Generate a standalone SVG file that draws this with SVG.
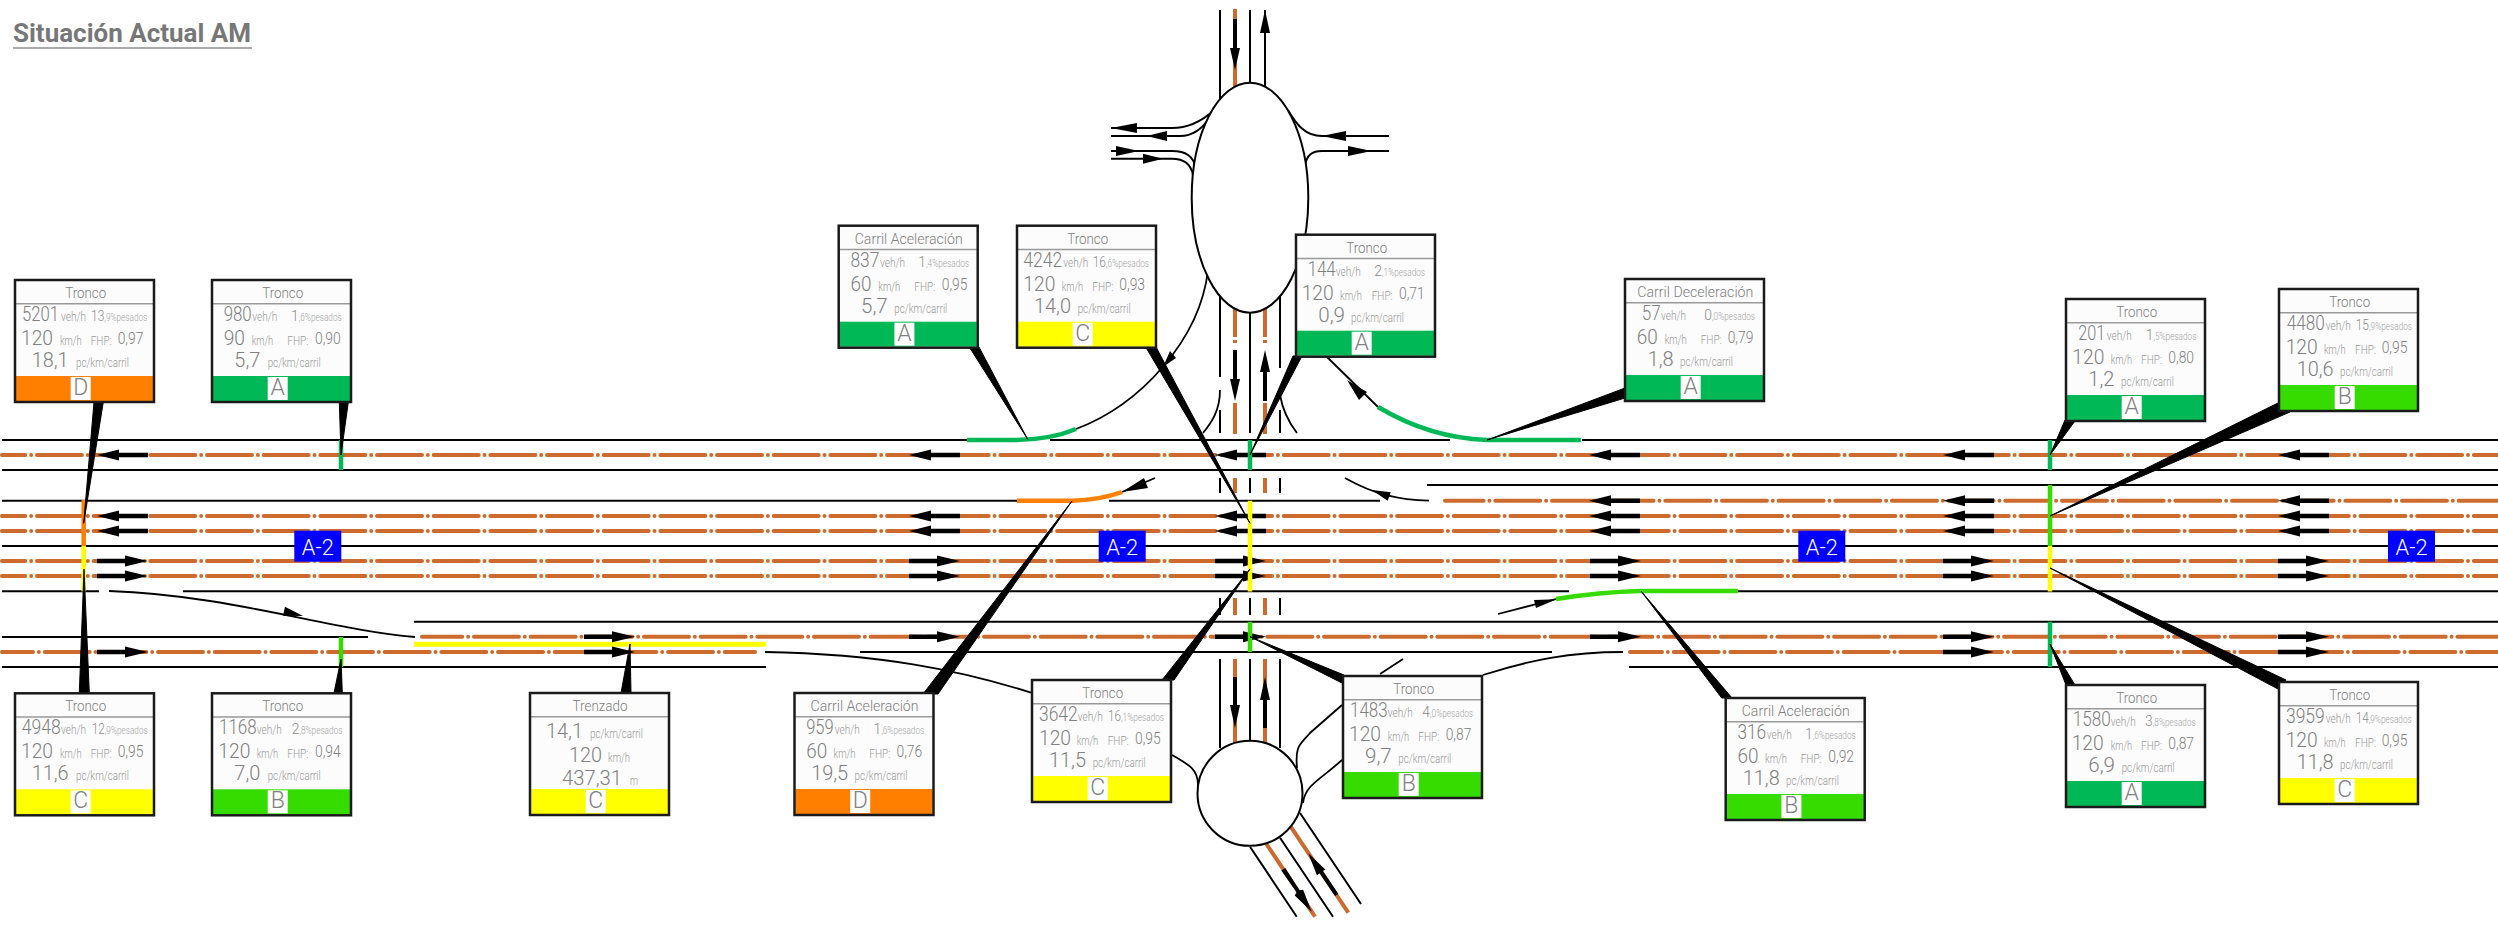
<svg xmlns="http://www.w3.org/2000/svg" width="2498" height="928" viewBox="0 0 2498 928">
<style>
text{font-family:Roboto,"Liberation Sans",sans-serif;font-weight:300;fill:#808080}
.ttl{font-size:25px;font-weight:700;fill:#777}
.t{font-size:15.5px;text-anchor:middle}
.n{font-size:21px}
.v{font-size:17px}
.p{font-size:15px;fill:#8c8c8c}
.q{font-size:10px;fill:#a6a6a6}
.u{font-size:12px;fill:#999}
.l{font-size:23px;text-anchor:middle}
.sign{font-size:22px;fill:#fff;text-anchor:middle}
.road{stroke:#000;stroke-width:2;fill:none}
.thin{stroke:#000;stroke-width:1.8;fill:none}
.lane{stroke:#cd6a2d;stroke-width:4;stroke-linecap:round;stroke-dasharray:45 5.83 .01 5.83;fill:none}
.sol{stroke:#cd6a2d;stroke-width:4;fill:none}
.isle{stroke:#000;stroke-width:2;fill:#fff}
.bar{stroke-width:4.5;fill:none}
.A{fill:#00b956}.B{fill:#36dc00}.C{fill:#ffff00}.D{fill:#ff7f00}
.sA{stroke:#00b956}.sB{stroke:#36dc00}.sC{stroke:#ffff00}.sD{stroke:#ff7f00}
.sq{fill:#0000ff}
.bg{fill:#fcfcfc}
.edge{fill:none;stroke:#1a1a1a;stroke-width:2.5}
.div{stroke:#999;stroke-width:1.5;fill:none}
#connectors polygon{fill:#000;stroke:#000;stroke-width:1;stroke-linejoin:round}
</style>
<defs>
<path id="w" d="M0 0L22 -5.5V-2.3H51V2.3H22V5.5Z"/>
<path id="e" d="M0 -2.3H28V-5.5L51 0L28 5.5V2.3H0Z"/>
<rect id="bgr" class="bg" x="1" y="1" width="139" height="122"/>
<rect id="bnd" x="2" y="97" width="137" height="25"/>
<rect id="lw" x="56.7" y="98" width="20" height="23" fill="#fff"/>
<rect id="bd" class="edge" x="1" y="1" width="139" height="122"/>
<path id="dv" class="div" d="M2 24.7H139"/>
</defs>
<g id="title">
<text class="ttl" x="13" y="41.5" textLength="238" lengthAdjust="spacingAndGlyphs">Situación Actual AM</text>
<path d="M13 48H252" stroke="#aaa" stroke-width="2" fill="none"/>
</g>
<g id="roads">
<path class="road" d="M2 440H967M1050 440H1450M1582 440H2498M2 470H2498M1427 485H2498M2 500.7H1017M1109 500.7H1380M2 546H2498M2 591.3H99M183 591.3H1569M1738 591.3H2498M414 621.7H2498M2 637H368M860 652H1552M2 667H766M1629 667H2498"/>
<path class="lane" stroke-dashoffset="21.68" d="M2 455H2498"/>
<path class="lane" stroke-dashoffset="21.68" d="M2 516H2498"/>
<path class="lane" stroke-dashoffset="21.68" d="M2 531H2498"/>
<path class="lane" stroke-dashoffset="21.68" d="M2 561H2498"/>
<path class="lane" stroke-dashoffset="21.68" d="M2 576H2498"/>
<path class="lane" stroke-dashoffset="6.4" d="M1445 500.7H2498"/>
<path class="lane" stroke-dashoffset="4.7" d="M422 636.7H2498"/>
<path class="lane" stroke-dashoffset="14" d="M2 652H755"/>
<path class="lane" stroke-dashoffset="13" d="M1630 652H2498"/>
<path class="sol" d="M1235 9V88M1235 300V337M1235 340V343M1235 403V434M1235 478V493M1235 598V615M1235 659V743M1265 300V337M1265 340V343M1265 403V434M1265 478V493M1265 598V615M1265 659V743M1265.7 843L1315 916.7M1290.7 826.7L1348.3 912.7"/>
<path class="road" d="M1220 10V103M1250 10V83M1265 10V88M1220 280V377M1220 410V433M1220 478V493M1220 598V615M1220 659V748M1250 300V433M1250 478V493M1250 598V615M1250 659V740M1280 280V368M1280 410V433M1280 478V493M1280 598V615M1280 659V748M1250 846.7L1296.7 916.7M1280 837.7L1333 916.7M1300 813L1361 904"/>
<path class="thin" d="M1220 390C1220 410 1212 422 1203 433M1280 395C1283 412 1290 424 1297 433"/>
<path class="road" d="M1111 128H1172C1190 128 1203 120 1213 111M1111 136H1180C1193 136 1203 128 1210 117M1111 151H1172C1186 151 1193 156 1196 168M1111 158.7H1172C1184 158.7 1191 164 1193 175M1389 136H1322C1305 136 1296 124 1288 110M1389 151H1322C1312 151 1307 155 1305 165"/>
<path class="thin" d="M1208 270C1200 340 1140 405 1076 429"/>
<path class="thin" d="M1378 407L1327 357"/>
<path class="thin" d="M1122 492L1155 478M1429 500.7C1400 500 1375 495 1345 478M109 591C230 595 330 630 415 637M1498 614L1556 599M765 652C880 654 960 670 1031 692.7M1483 675C1530 660 1570 652 1623 652M1172 755C1190 765 1198 770 1198 785M1297 768C1295 745 1300 745 1310 733L1342 705M1303 803C1305 785 1320 780 1342 760M1380 674L1403 659"/>
<ellipse class="isle" cx="1250" cy="197.7" rx="58.3" ry="115"/>
<circle class="isle" cx="1250" cy="793.3" r="52.5"/>
<path class="bar sA" d="M967 440H1013Q1050 440 1076 429M1378 407Q1430 438 1487 440H1581"/>
<path class="bar sD" d="M1017 500.7H1072Q1100 500 1122 492"/>
<path class="bar sB" d="M1556 599Q1600 592 1640 591H1738"/>
<rect class="C" x="414" y="641.8" width="352" height="5"/>
</g>
<g id="arrows">
<use href="#w" x="97" y="455"/><use href="#w" x="909" y="455"/><use href="#w" x="1215" y="455"/><use href="#w" x="1589" y="455"/><use href="#w" x="1943" y="455"/><use href="#w" x="2278" y="455"/>
<use href="#w" x="1589" y="500.7"/><use href="#w" x="1943" y="500.7"/><use href="#w" x="2278" y="500.7"/>
<use href="#w" x="97" y="516"/><use href="#w" x="909" y="516"/><use href="#w" x="1215" y="516"/><use href="#w" x="1589" y="516"/><use href="#w" x="1943" y="516"/><use href="#w" x="2278" y="516"/>
<use href="#w" x="97" y="531"/><use href="#w" x="909" y="531"/><use href="#w" x="1215" y="531"/><use href="#w" x="1589" y="531"/><use href="#w" x="1943" y="531"/><use href="#w" x="2278" y="531"/>
<use href="#e" x="97" y="561"/><use href="#e" x="909" y="561"/><use href="#e" x="1215" y="561"/><use href="#e" x="1590" y="561"/><use href="#e" x="1943" y="561"/><use href="#e" x="2278" y="561"/>
<use href="#e" x="97" y="576"/><use href="#e" x="909" y="576"/><use href="#e" x="1215" y="576"/><use href="#e" x="1590" y="576"/><use href="#e" x="1943" y="576"/><use href="#e" x="2278" y="576"/>
<use href="#e" x="584" y="636.7"/><use href="#e" x="909" y="636.7"/><use href="#e" x="1215" y="636.7"/><use href="#e" x="1590" y="636.7"/><use href="#e" x="1943" y="636.7"/><use href="#e" x="2278" y="636.7"/>
<use href="#e" x="97" y="652"/><use href="#e" x="584" y="652"/><use href="#e" x="1943" y="652"/><use href="#e" x="2278" y="652"/>
<path d="M1233 19H1237V48H1240L1235 70L1230 48H1233ZM1265 10L1270 33H1260ZM1233 350H1237V379H1240L1235 401L1230 379H1233ZM1265 350L1270 372H1267V401H1263V372H1260ZM1233 677H1237V705H1240L1235 728L1230 705H1233ZM1265 677L1270 700H1267V728H1263V700H1260Z"/>
<path d="M1111 128L1137 123V133ZM1146.7 136L1167 131V141ZM1139 151L1116 146V156ZM1163 158.7L1143 153.7V163.7ZM1321.7 136L1346 131V141ZM1371.7 151L1348 146V156Z"/>
<path d="M1163 367L1170 351L1176 358ZM1347 380L1367 392L1359 400ZM1122 492L1144 478L1148 488ZM1371.7 490L1390.7 492.3L1387.7 500.7ZM303 616L285 606.7L283 615.7ZM1556.7 599.3L1534 600L1536 608Z"/>
<path d="M1281.3 870.6L1285.3 868L1299.6 890.2L1303.1 889.8L1311.7 911.7L1294.7 895.4L1296.6 892.2ZM1308.3 853.3L1325.3 869.6L1323 871.1L1338.4 893.9L1335 896.1L1319.6 873.3L1316.9 875.2Z"/>
</g>
<g id="measure-bars">
<path class="bar sD" d="M83.7 500V546"/>
<path class="bar sC" d="M83.7 546V591.5M1250 500.7V591.5M2050 546V591.5"/>
<path class="bar sA" d="M341 440V470M1250 440V470M2050 440V470M2050 621.7V667"/>
<path class="bar sB" d="M341 637V667M1250 621.7V652M2050 485V546"/>
</g>
<g id="signs">
<g id="sign1"><rect class="sq" x="294.3" y="530.7" width="47" height="31"/><text class="sign" x="317.8" y="554.5" textLength="32" lengthAdjust="spacingAndGlyphs">A-2</text></g>
<g id="sign2"><rect class="sq" x="1098.7" y="530.7" width="47" height="31"/><text class="sign" x="1122.2" y="554.5" textLength="32" lengthAdjust="spacingAndGlyphs">A-2</text></g>
<g id="sign3"><rect class="sq" x="1798.3" y="530.7" width="47" height="31"/><text class="sign" x="1821.8" y="554.5" textLength="32" lengthAdjust="spacingAndGlyphs">A-2</text></g>
<g id="sign4"><rect class="sq" x="2388" y="530.7" width="47" height="31"/><text class="sign" x="2411.5" y="554.5" textLength="32" lengthAdjust="spacingAndGlyphs">A-2</text></g>
</g>
<g id="connectors">
<polygon points="94,402 103.3,402 83.7,523.3"/>
<polygon points="339.3,402 348.3,402 341,455"/>
<polygon points="79.3,693 89.3,693 84,569"/>
<polygon points="334,693 342.3,693 341,659"/>
<polygon points="621,693 631,693 630,644"/>
<polygon points="923,694 938,694 1072,501"/>
<polygon points="1162,680 1174,680 1250,569"/>
<polygon points="1250,636.7 1344,675 1344,684"/>
<polygon points="1641,591 1721.7,698 1732,698"/>
<polygon points="2050,644 2066,685 2075,685"/>
<polygon points="2050,568 2278,689 2286,680"/>
<polygon points="969.3,347 979,347 1027.7,439.3"/>
<polygon points="1145.7,347 1156,347 1250,523.3"/>
<polygon points="1293,356 1302,356 1250,455"/>
<polygon points="1625,388 1625,398 1487,440"/>
<polygon points="2065,420 2075.7,420 2050,455"/>
<polygon points="2278,403 2290,412 2050,516"/>
</g>
<g id="n1" transform="translate(14 279)"><use href="#bgr"/><use href="#bnd" class="D"/><use href="#lw"/><use href="#dv"/><use href="#bd"/>
<text class="t" x="71.7" y="19" textLength="41" lengthAdjust="spacingAndGlyphs">Tronco</text>
<text class="n" x="8" y="42" textLength="37" lengthAdjust="spacingAndGlyphs">5201</text><text class="u" x="47" y="42" textLength="25" lengthAdjust="spacingAndGlyphs">veh/h</text><text x="77" y="42"><tspan class="p" textLength="13.3" lengthAdjust="spacingAndGlyphs">13</tspan><tspan class="q" textLength="43" lengthAdjust="spacingAndGlyphs">,9%pesados</tspan></text>
<text class="n" x="7" y="66" textLength="32" lengthAdjust="spacingAndGlyphs">120</text><text class="u" x="46" y="66" textLength="21.5" lengthAdjust="spacingAndGlyphs">km/h</text><text class="u" x="76.7" y="66" textLength="21" lengthAdjust="spacingAndGlyphs">FHP:</text><text class="v" x="103.7" y="65" textLength="25.7" lengthAdjust="spacingAndGlyphs">0,97</text>
<text class="n" x="17.7" y="88" textLength="37" lengthAdjust="spacingAndGlyphs">18,1</text><text class="u" x="62" y="88" textLength="53" lengthAdjust="spacingAndGlyphs">pc/km/carril</text>
<text class="l" x="66.7" y="116">D</text></g>
<g id="n2" transform="translate(211 279)"><use href="#bgr"/><use href="#bnd" class="A"/><use href="#lw"/><use href="#dv"/><use href="#bd"/>
<text class="t" x="71.7" y="19" textLength="41" lengthAdjust="spacingAndGlyphs">Tronco</text>
<text class="n" x="12.7" y="42" textLength="28" lengthAdjust="spacingAndGlyphs">980</text><text class="u" x="41.3" y="42" textLength="25" lengthAdjust="spacingAndGlyphs">veh/h</text><text x="80" y="42"><tspan class="p" textLength="7.7" lengthAdjust="spacingAndGlyphs">1</tspan><tspan class="q" textLength="43" lengthAdjust="spacingAndGlyphs">,6%pesados</tspan></text>
<text class="n" x="12.7" y="66" textLength="21.3" lengthAdjust="spacingAndGlyphs">90</text><text class="u" x="40.7" y="66" textLength="21.5" lengthAdjust="spacingAndGlyphs">km/h</text><text class="u" x="76.3" y="66" textLength="21" lengthAdjust="spacingAndGlyphs">FHP:</text><text class="v" x="104" y="65" textLength="25.7" lengthAdjust="spacingAndGlyphs">0,90</text>
<text class="n" x="23.3" y="88" textLength="26" lengthAdjust="spacingAndGlyphs">5,7</text><text class="u" x="56.7" y="88" textLength="53" lengthAdjust="spacingAndGlyphs">pc/km/carril</text>
<text class="l" x="66.7" y="116">A</text></g>
<g id="n3" transform="translate(14 692.3)"><use href="#bgr"/><use href="#bnd" class="C"/><use href="#lw"/><use href="#dv"/><use href="#bd"/>
<text class="t" x="71.7" y="19" textLength="41" lengthAdjust="spacingAndGlyphs">Tronco</text>
<text class="n" x="7.7" y="42" textLength="39" lengthAdjust="spacingAndGlyphs">4948</text><text class="u" x="47" y="42" textLength="25" lengthAdjust="spacingAndGlyphs">veh/h</text><text x="77.7" y="42"><tspan class="p" textLength="13" lengthAdjust="spacingAndGlyphs">12</tspan><tspan class="q" textLength="43" lengthAdjust="spacingAndGlyphs">,9%pesados</tspan></text>
<text class="n" x="7" y="66" textLength="32" lengthAdjust="spacingAndGlyphs">120</text><text class="u" x="46" y="66" textLength="21.5" lengthAdjust="spacingAndGlyphs">km/h</text><text class="u" x="76.7" y="66" textLength="21" lengthAdjust="spacingAndGlyphs">FHP:</text><text class="v" x="103.7" y="65" textLength="25.7" lengthAdjust="spacingAndGlyphs">0,95</text>
<text class="n" x="17.7" y="88" textLength="37" lengthAdjust="spacingAndGlyphs">11,6</text><text class="u" x="62" y="88" textLength="53" lengthAdjust="spacingAndGlyphs">pc/km/carril</text>
<text class="l" x="66.7" y="116">C</text></g>
<g id="n4" transform="translate(211 692.3)"><use href="#bgr"/><use href="#bnd" class="B"/><use href="#lw"/><use href="#dv"/><use href="#bd"/>
<text class="t" x="71.7" y="19" textLength="41" lengthAdjust="spacingAndGlyphs">Tronco</text>
<text class="n" x="8" y="42" textLength="37.7" lengthAdjust="spacingAndGlyphs">1168</text><text class="u" x="45.7" y="42" textLength="25" lengthAdjust="spacingAndGlyphs">veh/h</text><text x="80.7" y="42"><tspan class="p" textLength="7.7" lengthAdjust="spacingAndGlyphs">2</tspan><tspan class="q" textLength="43" lengthAdjust="spacingAndGlyphs">,8%pesados</tspan></text>
<text class="n" x="7.3" y="66" textLength="32" lengthAdjust="spacingAndGlyphs">120</text><text class="u" x="45.7" y="66" textLength="21.5" lengthAdjust="spacingAndGlyphs">km/h</text><text class="u" x="76.3" y="66" textLength="21" lengthAdjust="spacingAndGlyphs">FHP:</text><text class="v" x="104" y="65" textLength="25.7" lengthAdjust="spacingAndGlyphs">0,94</text>
<text class="n" x="23.3" y="88" textLength="26" lengthAdjust="spacingAndGlyphs">7,0</text><text class="u" x="56.7" y="88" textLength="53" lengthAdjust="spacingAndGlyphs">pc/km/carril</text>
<text class="l" x="66.7" y="116">B</text></g>
<g id="n5" transform="translate(529 692)"><use href="#bgr"/><use href="#bnd" class="C"/><use href="#lw"/><use href="#dv"/><use href="#bd"/>
<text class="t" x="71" y="19" textLength="55" lengthAdjust="spacingAndGlyphs">Trenzado</text>
<text class="n" x="17" y="46" textLength="37" lengthAdjust="spacingAndGlyphs">14,1</text><text class="u" x="61" y="46" textLength="53" lengthAdjust="spacingAndGlyphs">pc/km/carril</text>
<text class="n" x="40" y="70" textLength="33" lengthAdjust="spacingAndGlyphs">120</text><text class="u" x="79" y="70" textLength="22" lengthAdjust="spacingAndGlyphs">km/h</text>
<text class="n" x="33" y="93" textLength="60" lengthAdjust="spacingAndGlyphs">437,31</text><text class="u" x="101" y="93" textLength="8" lengthAdjust="spacingAndGlyphs">m</text>
<text class="l" x="66.7" y="116">C</text></g>
<g id="n6" transform="translate(793.5 692)"><use href="#bgr"/><use href="#bnd" class="D"/><use href="#lw"/><use href="#dv"/><use href="#bd"/>
<text class="t" x="71" y="19" textLength="108" lengthAdjust="spacingAndGlyphs">Carril Aceleración</text>
<text class="n" x="12.7" y="42" textLength="27.4" lengthAdjust="spacingAndGlyphs">959</text><text class="u" x="41.3" y="42" textLength="25" lengthAdjust="spacingAndGlyphs">veh/h</text><text x="80" y="42"><tspan class="p" textLength="7.7" lengthAdjust="spacingAndGlyphs">1</tspan><tspan class="q" textLength="43" lengthAdjust="spacingAndGlyphs">,6%pesados</tspan></text>
<text class="n" x="12.7" y="66" textLength="21" lengthAdjust="spacingAndGlyphs">60</text><text class="u" x="40" y="66" textLength="22" lengthAdjust="spacingAndGlyphs">km/h</text><text class="u" x="75.8" y="66" textLength="21" lengthAdjust="spacingAndGlyphs">FHP:</text><text class="v" x="103" y="65" textLength="25.7" lengthAdjust="spacingAndGlyphs">0,76</text>
<text class="n" x="17.7" y="88" textLength="37" lengthAdjust="spacingAndGlyphs">19,5</text><text class="u" x="61" y="88" textLength="53" lengthAdjust="spacingAndGlyphs">pc/km/carril</text>
<text class="l" x="66.7" y="116">D</text></g>
<g id="n7" transform="translate(1031 679)"><use href="#bgr"/><use href="#bnd" class="C"/><use href="#lw"/><use href="#dv"/><use href="#bd"/>
<text class="t" x="71.7" y="19" textLength="41" lengthAdjust="spacingAndGlyphs">Tronco</text>
<text class="n" x="8" y="42" textLength="38.7" lengthAdjust="spacingAndGlyphs">3642</text><text class="u" x="46.7" y="42" textLength="25" lengthAdjust="spacingAndGlyphs">veh/h</text><text x="77" y="42"><tspan class="p" textLength="13" lengthAdjust="spacingAndGlyphs">16</tspan><tspan class="q" textLength="43" lengthAdjust="spacingAndGlyphs">,1%pesados</tspan></text>
<text class="n" x="8" y="66" textLength="32" lengthAdjust="spacingAndGlyphs">120</text><text class="u" x="45.7" y="66" textLength="21.5" lengthAdjust="spacingAndGlyphs">km/h</text><text class="u" x="76.7" y="66" textLength="21" lengthAdjust="spacingAndGlyphs">FHP:</text><text class="v" x="104" y="65" textLength="25.7" lengthAdjust="spacingAndGlyphs">0,95</text>
<text class="n" x="18" y="88" textLength="37" lengthAdjust="spacingAndGlyphs">11,5</text><text class="u" x="61.7" y="88" textLength="53" lengthAdjust="spacingAndGlyphs">pc/km/carril</text>
<text class="l" x="66.7" y="116">C</text></g>
<g id="n8" transform="translate(1342 675)"><use href="#bgr"/><use href="#bnd" class="B"/><use href="#lw"/><use href="#dv"/><use href="#bd"/>
<text class="t" x="71.7" y="19" textLength="41" lengthAdjust="spacingAndGlyphs">Tronco</text>
<text class="n" x="8" y="42" textLength="37.7" lengthAdjust="spacingAndGlyphs">1483</text><text class="u" x="45.7" y="42" textLength="25" lengthAdjust="spacingAndGlyphs">veh/h</text><text x="80.3" y="42"><tspan class="p" textLength="7.7" lengthAdjust="spacingAndGlyphs">4</tspan><tspan class="q" textLength="43" lengthAdjust="spacingAndGlyphs">,0%pesados</tspan></text>
<text class="n" x="7" y="66" textLength="32" lengthAdjust="spacingAndGlyphs">120</text><text class="u" x="45.7" y="66" textLength="21.5" lengthAdjust="spacingAndGlyphs">km/h</text><text class="u" x="76.3" y="66" textLength="21" lengthAdjust="spacingAndGlyphs">FHP:</text><text class="v" x="103.7" y="65" textLength="25.7" lengthAdjust="spacingAndGlyphs">0,87</text>
<text class="n" x="23" y="88" textLength="26.7" lengthAdjust="spacingAndGlyphs">9,7</text><text class="u" x="56.3" y="88" textLength="53" lengthAdjust="spacingAndGlyphs">pc/km/carril</text>
<text class="l" x="66.7" y="116">B</text></g>
<g id="n9" transform="translate(1724.7 697)"><use href="#bgr"/><use href="#bnd" class="B"/><use href="#lw"/><use href="#dv"/><use href="#bd"/>
<text class="t" x="71" y="19" textLength="108" lengthAdjust="spacingAndGlyphs">Carril Aceleración</text>
<text class="n" x="12.7" y="42" textLength="28.7" lengthAdjust="spacingAndGlyphs">316</text><text class="u" x="42" y="42" textLength="25" lengthAdjust="spacingAndGlyphs">veh/h</text><text x="80.3" y="42"><tspan class="p" textLength="7.7" lengthAdjust="spacingAndGlyphs">1</tspan><tspan class="q" textLength="43" lengthAdjust="spacingAndGlyphs">,6%pesados</tspan></text>
<text class="n" x="12.7" y="66" textLength="21" lengthAdjust="spacingAndGlyphs">60</text><text class="u" x="40.3" y="66" textLength="22" lengthAdjust="spacingAndGlyphs">km/h</text><text class="u" x="76" y="66" textLength="21" lengthAdjust="spacingAndGlyphs">FHP:</text><text class="v" x="103.6" y="65" textLength="25.7" lengthAdjust="spacingAndGlyphs">0,92</text>
<text class="n" x="18" y="88" textLength="37" lengthAdjust="spacingAndGlyphs">11,8</text><text class="u" x="61.3" y="88" textLength="53" lengthAdjust="spacingAndGlyphs">pc/km/carril</text>
<text class="l" x="66.7" y="116">B</text></g>
<g id="n10" transform="translate(2065 684)"><use href="#bgr"/><use href="#bnd" class="A"/><use href="#lw"/><use href="#dv"/><use href="#bd"/>
<text class="t" x="71.7" y="19" textLength="41" lengthAdjust="spacingAndGlyphs">Tronco</text>
<text class="n" x="7.7" y="42" textLength="38" lengthAdjust="spacingAndGlyphs">1580</text><text class="u" x="45.7" y="42" textLength="25" lengthAdjust="spacingAndGlyphs">veh/h</text><text x="80" y="42"><tspan class="p" textLength="7.7" lengthAdjust="spacingAndGlyphs">3</tspan><tspan class="q" textLength="43" lengthAdjust="spacingAndGlyphs">,8%pesados</tspan></text>
<text class="n" x="6.7" y="66" textLength="32" lengthAdjust="spacingAndGlyphs">120</text><text class="u" x="45.7" y="66" textLength="21.5" lengthAdjust="spacingAndGlyphs">km/h</text><text class="u" x="76" y="66" textLength="21" lengthAdjust="spacingAndGlyphs">FHP:</text><text class="v" x="103.3" y="65" textLength="25.7" lengthAdjust="spacingAndGlyphs">0,87</text>
<text class="n" x="23.3" y="88" textLength="26.7" lengthAdjust="spacingAndGlyphs">6,9</text><text class="u" x="56.7" y="88" textLength="53" lengthAdjust="spacingAndGlyphs">pc/km/carril</text>
<text class="l" x="66.7" y="116">A</text></g>
<g id="n11" transform="translate(2278 681)"><use href="#bgr"/><use href="#bnd" class="C"/><use href="#lw"/><use href="#dv"/><use href="#bd"/>
<text class="t" x="71.7" y="19" textLength="41" lengthAdjust="spacingAndGlyphs">Tronco</text>
<text class="n" x="8" y="42" textLength="38.7" lengthAdjust="spacingAndGlyphs">3959</text><text class="u" x="47.7" y="42" textLength="25" lengthAdjust="spacingAndGlyphs">veh/h</text><text x="77.7" y="42"><tspan class="p" textLength="13" lengthAdjust="spacingAndGlyphs">14</tspan><tspan class="q" textLength="43" lengthAdjust="spacingAndGlyphs">,9%pesados</tspan></text>
<text class="n" x="7.7" y="66" textLength="32" lengthAdjust="spacingAndGlyphs">120</text><text class="u" x="46" y="66" textLength="21.5" lengthAdjust="spacingAndGlyphs">km/h</text><text class="u" x="77" y="66" textLength="21" lengthAdjust="spacingAndGlyphs">FHP:</text><text class="v" x="103.7" y="65" textLength="25.7" lengthAdjust="spacingAndGlyphs">0,95</text>
<text class="n" x="18.7" y="88" textLength="37" lengthAdjust="spacingAndGlyphs">11,8</text><text class="u" x="62" y="88" textLength="53" lengthAdjust="spacingAndGlyphs">pc/km/carril</text>
<text class="l" x="66.7" y="116">C</text></g>
<g id="n12" transform="translate(837.7 224.7)"><use href="#bgr"/><use href="#bnd" class="A"/><use href="#lw"/><use href="#dv"/><use href="#bd"/>
<text class="t" x="71" y="19" textLength="108" lengthAdjust="spacingAndGlyphs">Carril Aceleración</text>
<text class="n" x="12.7" y="42" textLength="29" lengthAdjust="spacingAndGlyphs">837</text><text class="u" x="42.3" y="42" textLength="25" lengthAdjust="spacingAndGlyphs">veh/h</text><text x="80.6" y="42"><tspan class="p" textLength="7.7" lengthAdjust="spacingAndGlyphs">1</tspan><tspan class="q" textLength="43" lengthAdjust="spacingAndGlyphs">,4%pesados</tspan></text>
<text class="n" x="12.7" y="66" textLength="21" lengthAdjust="spacingAndGlyphs">60</text><text class="u" x="40.6" y="66" textLength="22" lengthAdjust="spacingAndGlyphs">km/h</text><text class="u" x="76.6" y="66" textLength="21" lengthAdjust="spacingAndGlyphs">FHP:</text><text class="v" x="104" y="65" textLength="25.7" lengthAdjust="spacingAndGlyphs">0,95</text>
<text class="n" x="23.3" y="88" textLength="26.7" lengthAdjust="spacingAndGlyphs">5,7</text><text class="u" x="56.6" y="88" textLength="53" lengthAdjust="spacingAndGlyphs">pc/km/carril</text>
<text class="l" x="66.7" y="116">A</text></g>
<g id="n13" transform="translate(1016 224.7)"><use href="#bgr"/><use href="#bnd" class="C"/><use href="#lw"/><use href="#dv"/><use href="#bd"/>
<text class="t" x="71.7" y="19" textLength="41" lengthAdjust="spacingAndGlyphs">Tronco</text>
<text class="n" x="7.3" y="42" textLength="39" lengthAdjust="spacingAndGlyphs">4242</text><text class="u" x="47.3" y="42" textLength="25" lengthAdjust="spacingAndGlyphs">veh/h</text><text x="76.7" y="42"><tspan class="p" textLength="13.3" lengthAdjust="spacingAndGlyphs">16</tspan><tspan class="q" textLength="43" lengthAdjust="spacingAndGlyphs">,6%pesados</tspan></text>
<text class="n" x="7.3" y="66" textLength="32" lengthAdjust="spacingAndGlyphs">120</text><text class="u" x="45.7" y="66" textLength="21.5" lengthAdjust="spacingAndGlyphs">km/h</text><text class="u" x="76.3" y="66" textLength="21" lengthAdjust="spacingAndGlyphs">FHP:</text><text class="v" x="103.3" y="65" textLength="25.7" lengthAdjust="spacingAndGlyphs">0,93</text>
<text class="n" x="18" y="88" textLength="37" lengthAdjust="spacingAndGlyphs">14,0</text><text class="u" x="61.7" y="88" textLength="53" lengthAdjust="spacingAndGlyphs">pc/km/carril</text>
<text class="l" x="66.7" y="116">C</text></g>
<g id="n14" transform="translate(1295 233.7)"><use href="#bgr"/><use href="#bnd" class="A"/><use href="#lw"/><use href="#dv"/><use href="#bd"/>
<text class="t" x="71.7" y="19" textLength="41" lengthAdjust="spacingAndGlyphs">Tronco</text>
<text class="n" x="12.7" y="42" textLength="28" lengthAdjust="spacingAndGlyphs">144</text><text class="u" x="40.7" y="42" textLength="25" lengthAdjust="spacingAndGlyphs">veh/h</text><text x="79.3" y="42"><tspan class="p" textLength="7.7" lengthAdjust="spacingAndGlyphs">2</tspan><tspan class="q" textLength="43" lengthAdjust="spacingAndGlyphs">,1%pesados</tspan></text>
<text class="n" x="6.7" y="66" textLength="32" lengthAdjust="spacingAndGlyphs">120</text><text class="u" x="45" y="66" textLength="22" lengthAdjust="spacingAndGlyphs">km/h</text><text class="u" x="76.7" y="66" textLength="21" lengthAdjust="spacingAndGlyphs">FHP:</text><text class="v" x="104" y="65" textLength="25.7" lengthAdjust="spacingAndGlyphs">0,71</text>
<text class="n" x="23.3" y="88" textLength="26.7" lengthAdjust="spacingAndGlyphs">0,9</text><text class="u" x="56" y="88" textLength="53" lengthAdjust="spacingAndGlyphs">pc/km/carril</text>
<text class="l" x="66.7" y="116">A</text></g>
<g id="n15" transform="translate(1624 278)"><use href="#bgr"/><use href="#bnd" class="A"/><use href="#lw"/><use href="#dv"/><use href="#bd"/>
<text class="t" x="71.3" y="19" textLength="116" lengthAdjust="spacingAndGlyphs">Carril Deceleración</text>
<text class="n" x="17.7" y="42" textLength="19" lengthAdjust="spacingAndGlyphs">57</text><text class="u" x="37" y="42" textLength="25" lengthAdjust="spacingAndGlyphs">veh/h</text><text x="80.3" y="42"><tspan class="p" textLength="7.7" lengthAdjust="spacingAndGlyphs">0</tspan><tspan class="q" textLength="43" lengthAdjust="spacingAndGlyphs">,0%pesados</tspan></text>
<text class="n" x="12.7" y="66" textLength="21" lengthAdjust="spacingAndGlyphs">60</text><text class="u" x="40.7" y="66" textLength="22" lengthAdjust="spacingAndGlyphs">km/h</text><text class="u" x="76.7" y="66" textLength="21" lengthAdjust="spacingAndGlyphs">FHP:</text><text class="v" x="103.7" y="65" textLength="25.7" lengthAdjust="spacingAndGlyphs">0,79</text>
<text class="n" x="23.7" y="88" textLength="26" lengthAdjust="spacingAndGlyphs">1,8</text><text class="u" x="56" y="88" textLength="53" lengthAdjust="spacingAndGlyphs">pc/km/carril</text>
<text class="l" x="66.7" y="116">A</text></g>
<g id="n16" transform="translate(2065 298)"><use href="#bgr"/><use href="#bnd" class="A"/><use href="#lw"/><use href="#dv"/><use href="#bd"/>
<text class="t" x="71.7" y="19" textLength="41" lengthAdjust="spacingAndGlyphs">Tronco</text>
<text class="n" x="13.3" y="42" textLength="27" lengthAdjust="spacingAndGlyphs">201</text><text class="u" x="41.7" y="42" textLength="25" lengthAdjust="spacingAndGlyphs">veh/h</text><text x="80.7" y="42"><tspan class="p" textLength="7.7" lengthAdjust="spacingAndGlyphs">1</tspan><tspan class="q" textLength="43" lengthAdjust="spacingAndGlyphs">,5%pesados</tspan></text>
<text class="n" x="7.3" y="66" textLength="32" lengthAdjust="spacingAndGlyphs">120</text><text class="u" x="45.7" y="66" textLength="21.5" lengthAdjust="spacingAndGlyphs">km/h</text><text class="u" x="76" y="66" textLength="21" lengthAdjust="spacingAndGlyphs">FHP:</text><text class="v" x="103.3" y="65" textLength="25.7" lengthAdjust="spacingAndGlyphs">0,80</text>
<text class="n" x="23.3" y="88" textLength="26" lengthAdjust="spacingAndGlyphs">1,2</text><text class="u" x="56" y="88" textLength="53" lengthAdjust="spacingAndGlyphs">pc/km/carril</text>
<text class="l" x="66.7" y="116">A</text></g>
<g id="n17" transform="translate(2278 288)"><use href="#bgr"/><use href="#bnd" class="B"/><use href="#lw"/><use href="#dv"/><use href="#bd"/>
<text class="t" x="71.7" y="19" textLength="41" lengthAdjust="spacingAndGlyphs">Tronco</text>
<text class="n" x="8.7" y="42" textLength="38" lengthAdjust="spacingAndGlyphs">4480</text><text class="u" x="47.7" y="42" textLength="25" lengthAdjust="spacingAndGlyphs">veh/h</text><text x="77.7" y="42"><tspan class="p" textLength="13.3" lengthAdjust="spacingAndGlyphs">15</tspan><tspan class="q" textLength="43" lengthAdjust="spacingAndGlyphs">,9%pesados</tspan></text>
<text class="n" x="7.7" y="66" textLength="32" lengthAdjust="spacingAndGlyphs">120</text><text class="u" x="46" y="66" textLength="21.5" lengthAdjust="spacingAndGlyphs">km/h</text><text class="u" x="77" y="66" textLength="21" lengthAdjust="spacingAndGlyphs">FHP:</text><text class="v" x="103.7" y="65" textLength="25.7" lengthAdjust="spacingAndGlyphs">0,95</text>
<text class="n" x="18.7" y="88" textLength="37" lengthAdjust="spacingAndGlyphs">10,6</text><text class="u" x="62" y="88" textLength="53" lengthAdjust="spacingAndGlyphs">pc/km/carril</text>
<text class="l" x="66.7" y="116">B</text></g>
</svg>
